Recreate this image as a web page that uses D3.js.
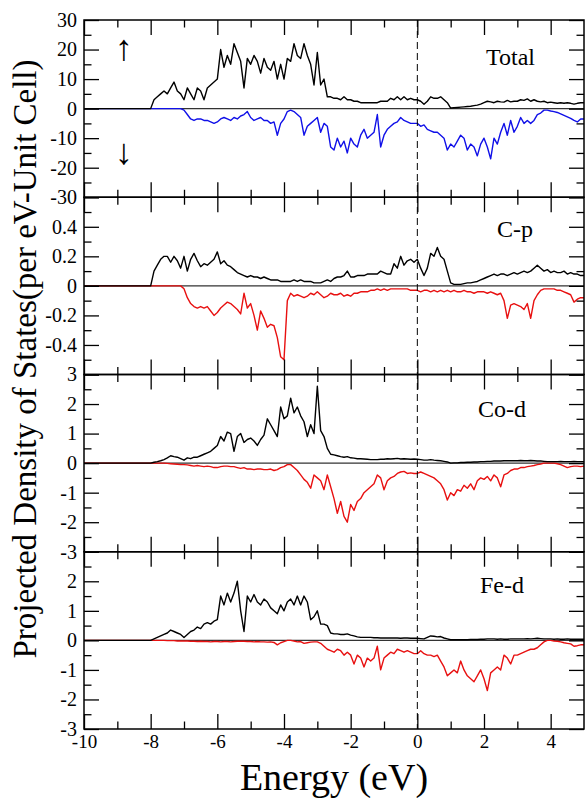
<!DOCTYPE html>
<html><head><meta charset="utf-8">
<script src="https://cdn.jsdelivr.net/npm/d3@7"></script>
<style>
html,body{margin:0;padding:0;background:#fff;}
svg{display:block;}
text{fill:#000;}
</style></head>
<body>
<svg id="chart" width="586" height="798"></svg>
<script>
// ---------- DATA ----------
// Energy grid (eV), 0.1 eV step from -10 to 5
const energy = d3.range(151).map(i => Math.round((-10 + i * 0.1) * 10) / 10);

const panelNames = ["Total", "C-p", "Co-d", "Fe-d"];
const xTicksMajor = [-10, -8, -6, -4, -2, 0, 2, 4];
const xTicksMinor = [-9, -7, -5, -3, -1, 1, 3];

const totalUp = [
 0,0,0,0,0,0,0,0,0,0,
 0,0,0,0,0,0,0,0,0,0,
 0,3,4,5,6,5,7,9,6,5,
 3,7,5,3,7,6,3,7,8,9,
 10,20,14,18,15,22,19,16,7,17,
 15,18,16,12,17,14,13,16,10,15,
 10,17,16,22,18,17,22,18,15,8,
 19,8,10,4,4,3.5,3.5,3,4,3,
 3,2.5,2.5,2,2,2,2,2,2,2.5,
 2.5,2.5,3.5,3,4,3,4,3,3.5,3,
 3,2.5,1.5,2.5,4,3.5,3.5,4,3,2,
 0.2,0.3,0.4,0.5,0.6,0.7,0.8,1,1.2,1.5,
 2,2.5,2.3,2,2.5,2.3,2.2,2.8,2.3,2.5,
 2.5,3,2.8,3.3,2.5,3,2.5,2.3,2.5,2,
 2.2,2,1.8,2,1.8,2,1.8,1.5,1.8,2,
 2];
const totalDown = [
 0,0,0,0,0,0,0,0,0,0,
 0,0,0,0,0,0,0,0,0,0,
 0,0,0,0,0,0,0,0,0,0,
 -0.5,-2,-3.5,-4,-3.5,-3.5,-4,-4,-4.5,-5,
 -4.5,-3.5,-3,-3.5,-4,-3,-3.5,-2.5,-2,-1,
 -3,-4,-3.5,-3,-4,-4,-5,-4.5,-9,-5,
 -3.5,-1,-0.5,-1,-2,-3,-9,-6,-5,-4,
 -3,-8,-5,-6,-13,-14,-10,-13,-11,-15,
 -10,-12,-13,-9,-7,-10,-9,-8,-2,-13,
 -9,-7,-6,-5,-4.5,-3,-4,-4.5,-5,-5,
 -5,-6,-5.5,-7,-7.5,-8,-8,-9,-10,-14,
 -12,-13,-11,-9,-10,-14,-12,-13,-16,-12,
 -10,-13,-17,-10,-12,-8,-5,-9,-4,-8,
 -6,-3,-5,-4,-5,-4,-2,-1.5,-0.5,-0.5,
 -0.8,-1,-1.3,-1.8,-2.3,-2.8,-3.3,-4,-4.5,-3.5,
 -3.5];
const cpUp = [
 0,0,0,0,0,0,0,0,0,0,
 0,0,0,0,0,0,0,0,0,0,
 0,0.1,0.14,0.18,0.2,0.2,0.16,0.2,0.17,0.12,
 0.2,0.1,0.18,0.22,0.17,0.13,0.15,0.14,0.16,0.18,
 0.23,0.15,0.17,0.14,0.13,0.11,0.09,0.08,0.07,0.06,
 0.07,0.06,0.06,0.05,0.06,0.05,0.04,0.04,0.04,0.03,
 0.03,0.03,0.03,0.04,0.03,0.04,0.03,0.03,0.03,0.02,
 0.02,0.02,0.03,0.04,0.03,0.05,0.06,0.06,0.07,0.1,
 0.06,0.06,0.07,0.07,0.07,0.08,0.08,0.08,0.08,0.1,
 0.09,0.08,0.08,0.15,0.12,0.2,0.14,0.17,0.18,0.16,
 0.18,0.12,0.07,0.12,0.22,0.2,0.26,0.2,0.18,0.1,
 0.02,0.01,0.01,0.01,0.015,0.02,0.02,0.025,0.03,0.04,
 0.05,0.06,0.07,0.08,0.07,0.08,0.08,0.07,0.08,0.09,
 0.08,0.09,0.1,0.09,0.1,0.12,0.14,0.12,0.1,0.11,
 0.09,0.1,0.09,0.09,0.1,0.08,0.09,0.08,0.08,0.07,
 0.07];
const cpDown = [
 0,0,0,0,0,0,0,0,0,0,
 0,0,0,0,0,0,0,0,0,0,
 0,0,0,0,0,0,0,0,0,0,
 -0.02,-0.08,-0.12,-0.14,-0.15,-0.14,-0.15,-0.14,-0.17,-0.2,
 -0.18,-0.15,-0.13,-0.11,-0.12,-0.14,-0.16,-0.19,-0.05,-0.15,
 -0.12,-0.2,-0.3,-0.17,-0.22,-0.28,-0.26,-0.27,-0.35,-0.48,
 -0.5,-0.1,-0.05,-0.07,-0.06,-0.07,-0.08,-0.07,-0.05,-0.06,
 -0.04,-0.06,-0.08,-0.07,-0.05,-0.06,-0.06,-0.05,-0.07,-0.06,
 -0.07,-0.05,-0.05,-0.04,-0.04,-0.04,-0.03,-0.03,-0.02,-0.03,
 -0.02,-0.03,-0.02,-0.02,-0.02,-0.02,-0.02,-0.02,-0.03,-0.03,
 -0.03,-0.04,-0.03,-0.03,-0.04,-0.03,-0.04,-0.03,-0.04,-0.03,
 -0.04,-0.03,-0.04,-0.04,-0.03,-0.04,-0.04,-0.05,-0.04,-0.04,
 -0.04,-0.05,-0.04,-0.05,-0.06,-0.05,-0.1,-0.22,-0.13,-0.12,
 -0.13,-0.14,-0.16,-0.12,-0.22,-0.1,-0.06,-0.03,-0.02,-0.02,
 -0.02,-0.02,-0.03,-0.03,-0.04,-0.05,-0.06,-0.11,-0.09,-0.08,
 -0.08];
const codUp = [
 0,0,0,0,0,0,0,0,0,0,
 0,0,0,0,0,0,0,0,0,0,
 0,0.03,0.05,0.08,0.12,0.18,0.25,0.22,0.2,0.15,
 0.1,0.18,0.15,0.2,0.2,0.25,0.3,0.35,0.4,0.5,
 0.6,0.9,0.75,1.05,1.0,0.4,0.9,1.0,0.7,0.8,
 0.85,0.75,0.6,0.8,0.95,1.5,1.3,1.1,0.9,1.9,
 1.5,1.6,2.2,1.7,1.9,1.6,1.4,0.9,1.3,1.0,
 2.6,1.1,0.9,0.5,0.3,0.28,0.25,0.22,0.2,0.22,
 0.18,0.17,0.15,0.15,0.14,0.13,0.12,0.12,0.12,0.13,
 0.13,0.15,0.14,0.15,0.16,0.14,0.15,0.14,0.13,0.14,
 0.13,0.12,0.1,0.1,0.12,0.1,0.09,0.08,0.06,0.04,
 0,0.01,0.01,0.02,0.02,0.03,0.03,0.04,0.04,0.05,
 0.05,0.06,0.06,0.07,0.07,0.07,0.08,0.08,0.08,0.08,
 0.08,0.09,0.08,0.08,0.09,0.08,0.07,0.07,0.06,0.05,
 0.05,0.05,0.05,0.06,0.05,0.05,0.05,0.06,0.05,0.05,
 0.05];
const codDown = [
 0,0,0,0,0,0,0,0,0,0,
 0,0,0,0,0,0,0,0,0,0,
 0,0,0,0,0,-0.01,-0.02,-0.03,-0.04,-0.05,
 -0.05,-0.06,-0.08,-0.1,-0.08,-0.1,-0.12,-0.1,-0.12,-0.15,
 -0.15,-0.12,-0.1,-0.1,-0.12,-0.12,-0.15,-0.18,-0.15,-0.2,
 -0.2,-0.22,-0.2,-0.2,-0.22,-0.22,-0.2,-0.25,-0.22,-0.15,
 -0.12,-0.05,-0.05,-0.15,-0.25,-0.4,-0.55,-0.65,-0.85,-0.4,
 -0.5,-0.6,-0.9,-0.4,-0.8,-1.2,-1.7,-1.3,-1.8,-2.0,
 -1.4,-1.6,-1.3,-1.2,-1.0,-0.9,-0.8,-0.7,-0.4,-0.5,
 -0.9,-0.6,-0.5,-0.45,-0.35,-0.3,-0.28,-0.35,-0.33,-0.35,
 -0.35,-0.3,-0.35,-0.4,-0.45,-0.5,-0.6,-0.7,-0.9,-1.25,
 -1.0,-1.1,-0.9,-0.95,-0.75,-0.85,-0.7,-0.9,-0.6,-0.5,
 -0.55,-0.45,-0.6,-0.4,-0.5,-0.8,-0.4,-0.35,-0.25,-0.2,
 -0.2,-0.15,-0.15,-0.12,-0.1,-0.08,-0.05,-0.03,0,0,
 0,0,-0.02,-0.05,-0.1,-0.15,-0.12,-0.1,-0.1,-0.12,
 -0.1];
const fedUp = [
 0,0,0,0,0,0,0,0,0,0,
 0,0,0,0,0,0,0,0,0,0,
 0,0.05,0.1,0.15,0.2,0.25,0.35,0.3,0.25,0.2,
 0.1,0.2,0.3,0.35,0.45,0.4,0.55,0.6,0.55,0.65,
 0.7,1.5,1.2,1.6,1.3,1.6,2.0,1.0,0.3,1.5,
 1.3,1.55,1.3,1.2,1.4,1.3,1.1,1.0,0.9,1.2,
 1.0,1.3,1.4,1.2,1.5,1.2,1.5,1.3,0.7,0.8,
 1.0,0.55,0.55,0.5,0.25,0.22,0.22,0.2,0.2,0.22,
 0.18,0.15,0.12,0.1,0.1,0.1,0.1,0.09,0.09,0.08,
 0.08,0.08,0.08,0.08,0.08,0.07,0.08,0.08,0.07,0.07,
 0.07,0.06,0.05,0.1,0.15,0.14,0.12,0.13,0.08,0.05,
 0.02,0.02,0.02,0.02,0.02,0.02,0.03,0.03,0.03,0.04,
 0.04,0.05,0.05,0.05,0.04,0.05,0.04,0.04,0.05,0.05,
 0.05,0.05,0.05,0.06,0.05,0.06,0.07,0.06,0.05,0.05,
 0.05,0.04,0.05,0.04,0.04,0.05,0.04,0.04,0.04,0.04,
 0.04];
const fedDown = [
 0,0,0,0,0,0,0,0,0,0,
 0,0,0,0,0,0,0,0,0,0,
 0,0,0,0,0,-0.01,-0.01,-0.01,-0.02,-0.02,
 -0.02,-0.02,-0.03,-0.03,-0.04,-0.03,-0.04,-0.04,-0.05,-0.04,
 -0.04,-0.05,-0.04,-0.04,-0.05,-0.04,-0.03,-0.03,-0.03,-0.04,
 -0.04,-0.05,-0.04,-0.05,-0.05,-0.06,-0.05,-0.07,-0.15,-0.08,
 -0.04,0,0,-0.02,-0.05,-0.04,-0.1,-0.08,-0.06,-0.05,
 -0.05,-0.1,-0.2,-0.3,-0.35,-0.4,-0.3,-0.35,-0.5,-0.4,
 -0.5,-0.8,-0.5,-0.6,-0.9,-0.6,-0.7,-0.6,-0.2,-1.0,
 -0.6,-0.5,-0.4,-0.45,-0.3,-0.35,-0.4,-0.35,-0.4,-0.45,
 -0.45,-0.35,-0.45,-0.5,-0.5,-0.55,-0.5,-0.7,-0.9,-1.2,
 -1.1,-1.0,-1.1,-0.7,-1.0,-1.2,-1.3,-1.4,-1.2,-1.0,
 -1.3,-1.7,-1.1,-1.0,-0.9,-1.0,-0.5,-0.6,-0.8,-0.5,
 -0.5,-0.45,-0.4,-0.35,-0.3,-0.3,-0.25,-0.15,-0.05,0,
 0,-0.02,-0.03,-0.05,-0.08,-0.1,-0.12,-0.2,-0.18,-0.15,
 -0.15];

// per-panel y settings
const yDomains = [[-30, 30], [-0.6, 0.6], [-3, 3], [-3, 3]];
const yMajor = [[-30,-20,-10,0,10,20,30], [-0.6,-0.4,-0.2,0,0.2,0.4,0.6], [-3,-2,-1,0,1,2,3], [-3,-2,-1,0,1,2,3]];
const yMinor = [[-25,-15,-5,5,15,25], [-0.5,-0.3,-0.1,0.1,0.3,0.5], [-2.5,-1.5,-0.5,0.5,1.5,2.5], [-2.5,-1.5,-0.5,0.5,1.5,2.5]];
const yLabels = [[30,20,10,0,-10,-20,-30], [0.4,0.2,0,-0.2,-0.4], [3,2,1,0,-1,-2,-3], [2,1,0,-1,-2,-3]];
const upSeries = [totalUp, cpUp, codUp, fedUp];
const downSeries = [totalDown, cpDown, codDown, fedDown];
const downColors = ["#1010e8", "#e81010", "#e81010", "#e81010"];

// ---------- LAYOUT ----------
const SERIF = '"Liberation Serif", Tinos, "Times New Roman", Times, "DejaVu Serif", serif';
const L = 84, R = 584, T = 20, B = 729;
const ph = (B - T) / 4;
const labelPos = [[486, 65], [497, 237], [478, 417], [480, 593]];

const svg = d3.select("#chart");
const x = d3.scaleLinear().domain([-10, 5]).range([L, R]);

for (let p = 0; p < 4; p++) {
  const top = T + p * ph, bot = top + ph;
  const y = d3.scaleLinear().domain(yDomains[p]).range([bot, top]);
  const g = svg.append("g");

  // zero line
  g.append("line").attr("x1", L).attr("x2", R).attr("y1", y(0)).attr("y2", y(0))
    .attr("stroke", "#333").attr("stroke-width", 1.2);

  const line = d3.line().x((d, i) => x(energy[i])).y(d => y(d));
  g.append("path").datum(downSeries[p]).attr("d", line).attr("fill", "none")
    .attr("stroke", downColors[p]).attr("stroke-width", 1.4).attr("stroke-linejoin", "round");
  g.append("path").datum(upSeries[p]).attr("d", line).attr("fill", "none")
    .attr("stroke", "#000").attr("stroke-width", 1.4).attr("stroke-linejoin", "round");

  // y axes (left with labels, right without)
  const fmt = d => yLabels[p].includes(d) ? String(d) : "";
  const yl = g.append("g").attr("transform", `translate(${L},0)`)
    .call(d3.axisLeft(y).tickValues(yMajor[p]).tickSize(-15).tickPadding(7).tickFormat(fmt));
  g.append("g").attr("transform", `translate(${L},0)`)
    .call(d3.axisLeft(y).tickValues(yMinor[p]).tickSize(-7.5).tickFormat(""));
  g.append("g").attr("transform", `translate(${R},0)`)
    .call(d3.axisRight(y).tickValues(yMajor[p]).tickSize(-15).tickFormat(""));
  g.append("g").attr("transform", `translate(${R},0)`)
    .call(d3.axisRight(y).tickValues(yMinor[p]).tickSize(-7.5).tickFormat(""));

  // x axes top & bottom
  const xb = g.append("g").attr("transform", `translate(0,${bot})`)
    .call(d3.axisBottom(x).tickValues(xTicksMajor).tickSize(-15).tickPadding(6)
      .tickFormat(p === 3 ? (d => String(d)) : ""));
  g.append("g").attr("transform", `translate(0,${bot})`)
    .call(d3.axisBottom(x).tickValues(xTicksMinor).tickSize(-7.5).tickFormat(""));
  g.append("g").attr("transform", `translate(0,${top})`)
    .call(d3.axisTop(x).tickValues(xTicksMajor).tickSize(-15).tickFormat(""));
  g.append("g").attr("transform", `translate(0,${top})`)
    .call(d3.axisTop(x).tickValues(xTicksMinor).tickSize(-7.5).tickFormat(""));

  g.selectAll(".domain").remove();
  g.selectAll("g").attr("font-family", SERIF);
  g.selectAll(".tick line").attr("stroke", "#000").attr("stroke-width", 1.3);
  yl.selectAll("text").attr("font-size", 20).style("font-family", SERIF);
  xb.selectAll("text").attr("font-size", 19).style("font-family", SERIF);

  // frame
  g.append("rect").attr("x", L).attr("y", top).attr("width", R - L).attr("height", ph)
    .attr("fill", "none").attr("stroke", "#000").attr("stroke-width", 1.5);

  // panel label
  g.append("text").attr("x", labelPos[p][0]).attr("y", labelPos[p][1])
    .attr("font-size", 24).style("font-family", SERIF).text(panelNames[p]);
}

// Fermi level dashed line
svg.append("line").attr("x1", x(0)).attr("x2", x(0)).attr("y1", T).attr("y2", B)
  .attr("stroke", "#000").attr("stroke-width", 1).attr("stroke-dasharray", "7,4");

// spin arrows
svg.append("text").attr("x", 124).attr("y", 60).attr("text-anchor", "middle")
  .attr("font-size", 36).style("font-family", SERIF).text("↑");
svg.append("text").attr("x", 124).attr("y", 164).attr("text-anchor", "middle")
  .attr("font-size", 36).style("font-family", SERIF).text("↓");

// axis titles
svg.append("text").attr("x", 334).attr("y", 790).attr("text-anchor", "middle")
  .attr("font-size", 38).style("font-family", SERIF).text("Energy (eV)");
svg.append("text").attr("transform", "translate(36,359) rotate(-90)")
  .attr("text-anchor", "middle").attr("font-size", 33).style("font-family", SERIF)
  .text("Projected Density of States(per eV-Unit Cell)");
</script>
</body></html>
